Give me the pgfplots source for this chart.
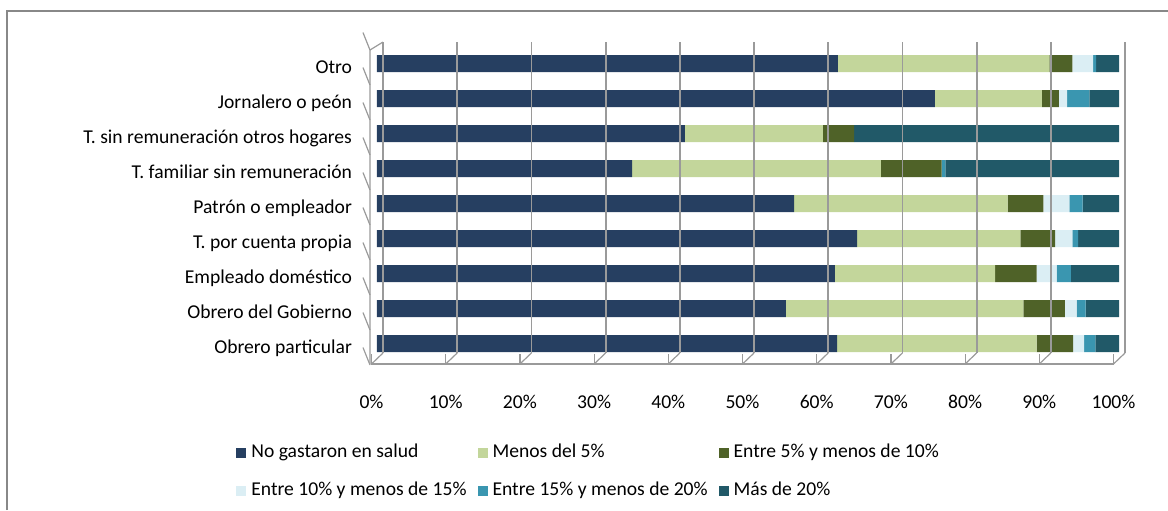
\documentclass[border=0pt]{standalone}
\usepackage{fontspec}
\setmainfont{Carlito}
\usepackage{pgfplots}
\usepackage{pgfplotstable}
\pgfplotsset{compat=1.18}
\definecolor{c1}{HTML}{263F61}
\definecolor{c2}{HTML}{C3D69B}
\definecolor{c3}{HTML}{4F6228}
\definecolor{c4}{HTML}{DBEEF4}
\definecolor{c5}{HTML}{3A96B0}
\definecolor{c6}{HTML}{215968}
\definecolor{gridgray}{HTML}{9A9A9A}
\definecolor{framegray}{HTML}{888888}
\pgfplotstableread{
y a b c d e f
0 62.0 26.9 4.9 1.5 1.5 3.2
1 55.1 32.0 5.6 1.6 1.2 4.5
2 61.7 21.6 5.6 2.7 1.9 6.5
3 64.7 22.0 4.7 2.3 0.8 5.5
4 56.2 28.8 4.8 3.5 1.8 4.9
5 34.4 33.5 8.2 0.0 0.5 23.4
6 41.5 18.6 4.2 0.0 0.0 35.7
7 75.2 14.4 2.3 1.1 3.0 4.0
8 62.1 28.5 3.1 2.8 0.4 3.1
}\datatable
\begin{document}
\begin{tikzpicture}
\path[use as bounding box] (0pt,0pt) rectangle (584pt,255pt);
\draw[framegray, line width=0.75pt] (3.5pt,0pt) -- (3.5pt,249.5pt) -- (584pt,249.5pt);
\begin{axis}[
  at={(188.5pt,74.5pt)}, anchor=south west,
  scale only axis, width=371pt, height=157.5pt,
  clip=false,
  xbar stacked, bar width=8.5pt,
  xmin=0, xmax=100, ymin=-0.5, ymax=8.5,
  axis line style={draw=none},
  tick style={draw=none},
  font=\fontsize{9.8}{11.8}\selectfont,
  /pgf/number format/assume math mode=true,
  typeset ticklabels with strut,
  xtick={0,10,...,100},
  xticklabel={\pgfmathprintnumber{\tick}\%},
  xticklabel style={anchor=center, xshift=-2.75pt, yshift=-20.25pt},
  ytick={0,...,8},
  yticklabels={Obrero particular, Obrero del Gobierno, Empleado doméstico, T. por cuenta propia, Patrón o empleador, T. familiar sin remuneración, T. sin remuneración otros hogares, Jornalero o peón, Otro},
  yticklabel style={anchor=east, xshift=-9pt, yshift=-2.5pt},
  every axis plot/.append style={draw=none},
  legend columns=3,
  legend cell align=left,
  legend image code/.code={\fill[#1] (0pt,-2.5pt) rectangle (5pt,2.5pt);},
  legend style={at={(-0.190,-0.2616)}, anchor=north west, draw=none, fill=none, inner sep=0pt,
    font=\fontsize{9.8}{11.8}\selectfont,
    nodes={inner sep=0pt, text height=7pt, text depth=2pt},
    row sep=10pt,
    /tikz/every odd column/.append style={column sep=2.5pt},
    /tikz/every even column/.append style={column sep=5.5pt}},
]
% back wall grid lines, floor depth lines and front ticks
\pgfplotsinvokeforeach{0,10,...,100}{
  \draw[gridgray, line width=0.9pt] ([xshift=3pt,yshift=4pt]axis cs:#1,-0.5) -- ([xshift=3pt,yshift=2pt]axis cs:#1,8.5);
  \draw[gridgray, line width=0.6pt] ([xshift=-2.75pt,yshift=-1.5pt]axis cs:#1,-0.5) -- ([xshift=3pt,yshift=4pt]axis cs:#1,-0.5);
  \draw[gridgray, line width=0.6pt] ([xshift=-2.75pt,yshift=-1.5pt]axis cs:#1,-0.5) -- ++(0,-3.5pt);
}
\draw[gridgray, line width=0.6pt] ([xshift=-2.75pt,yshift=-1.5pt]axis cs:0,-0.5) -- ([xshift=-2.75pt,yshift=-1.5pt]axis cs:100,-0.5);
\draw[gridgray, line width=0.6pt] ([xshift=-3.5pt,yshift=-1.5pt]axis cs:0,-0.5) -- ([xshift=-3.5pt,yshift=-2pt]axis cs:0,8.5) -- ([xshift=3pt,yshift=2pt]axis cs:0,8.5);
\pgfplotsinvokeforeach{-0.5,0.5,...,8.5}{
  \draw[gridgray, line width=0.6pt] ([xshift=-3.5pt,yshift=-2pt]axis cs:0,#1) -- ++(-3.5pt,0);
}
\addplot[fill=c1] table[x=a,y=y] {\datatable};
\addplot[fill=c2] table[x=b,y=y] {\datatable};
\addplot[fill=c3] table[x=c,y=y] {\datatable};
\addplot[fill=c4] table[x=d,y=y] {\datatable};
\addplot[fill=c5] table[x=e,y=y] {\datatable};
\addplot[fill=c6] table[x=f,y=y] {\datatable};
\legend{No gastaron en salud, Menos del 5\%, Entre 5\% y menos de 10\%, Entre 10\% y menos de 15\%, Entre 15\% y menos de 20\%, Más de 20\%}
\end{axis}
\end{tikzpicture}
\end{document}
